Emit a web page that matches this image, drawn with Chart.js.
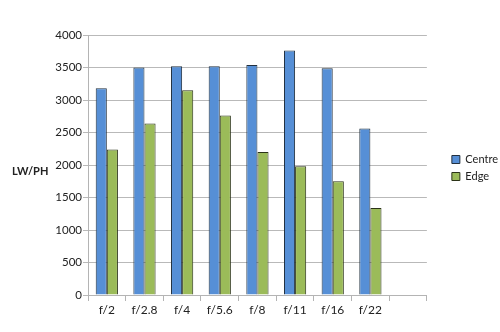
<!DOCTYPE html>
<html>
<head>
<meta charset="utf-8">
<script src="https://cdn.jsdelivr.net/npm/chart.js@4/dist/chart.umd.min.js"></script>
<style>
  html, body { margin: 0; padding: 0; background: #fff; }
  #wrap { width: 500px; height: 332px; position: relative; }
</style>
</head>
<body>
<div id="wrap"><canvas id="lwChart" width="500" height="332"></canvas></div>
<script>
// f-stop categories (the last slot is empty, as in the original)
const apertures = ['f/2', 'f/2.8', 'f/4', 'f/5.6', 'f/8', 'f/11', 'f/16', 'f/22', ''];
const centreValues = [3180, 3500, 3520, 3520, 3540, 3760, 3490, 2560, null];
const edgeValues = [2240, 2640, 3150, 2760, 2200, 1980, 1750, 1340, null];
const yTicks = [0, 500, 1000, 1500, 2000, 2500, 3000, 3500, 4000];
const yTitle = 'LW/PH';

const FONT = "Lato, 'Noto Sans', sans-serif";

// horizontal y-axis title on the left
const yTitlePlugin = {
  id: 'yTitle',
  afterDraw(chart) {
    const ctx = chart.ctx;
    ctx.save();
    ctx.font = 'bold 11px ' + FONT;
    ctx.fillStyle = '#222';
    ctx.textBaseline = 'middle';
    ctx.fillText(yTitle, 12, 171);
    ctx.restore();
  }
};

// push the legend a bit away from the plot area
const legendShift = {
  id: 'legendShift',
  afterLayout(chart) {
    if (chart.legend) {
      chart.legend.left += 19;
      chart.legend.right += 19;
    }
  }
};

new Chart(document.getElementById('lwChart').getContext('2d'), {
  type: 'bar',
  data: {
    labels: apertures,
    datasets: [
      {
        label: 'Centre',
        data: centreValues,
        backgroundColor: '#568FD6',
        borderColor: '#22303f',
        borderWidth: 1,
        categoryPercentage: 0.59,
        barPercentage: 1.0
      },
      {
        label: 'Edge',
        data: edgeValues,
        backgroundColor: '#9BBB59',
        borderColor: '#2b3318',
        borderWidth: 1,
        categoryPercentage: 0.59,
        barPercentage: 1.0
      }
    ]
  },
  options: {
    responsive: false,
    animation: false,
    layout: { padding: { left: 50, right: 11, top: 4, bottom: 0 } },
    plugins: {
      tooltip: { enabled: false },
      // blank title only used as top spacing
      title: { display: true, text: ' ', font: { size: 10 }, padding: { top: 0, bottom: 19 } },
      legend: {
        position: 'right',
        labels: {
          boxWidth: 8,
          boxHeight: 8,
          padding: 6,
          color: '#222',
          font: { family: FONT, size: 11 }
        }
      }
    },
    scales: {
      x: {
        afterFit(scale) { scale.height = 37; },
        grid: {
          drawOnChartArea: false,
          drawTicks: true,
          tickLength: 6,
          color: '#b4b4b4'
        },
        border: { color: '#b4b4b4' },
        ticks: { color: '#222', padding: 2, font: { family: FONT, size: 12 } }
      },
      y: {
        min: 0,
        max: 4000,
        afterFit(scale) { scale.width = 38; },
        afterBuildTicks(scale) { scale.ticks = yTicks.map(v => ({ value: v })); },
        grid: { color: '#b9b9b9', tickLength: 5 },
        border: { color: '#b4b4b4' },
        ticks: {
          color: '#222',
          padding: 1,
          font: { family: FONT, size: 11.5 },
          callback: v => String(v)
        }
      }
    }
  },
  plugins: [yTitlePlugin, legendShift]
});
</script>
</body>
</html>
